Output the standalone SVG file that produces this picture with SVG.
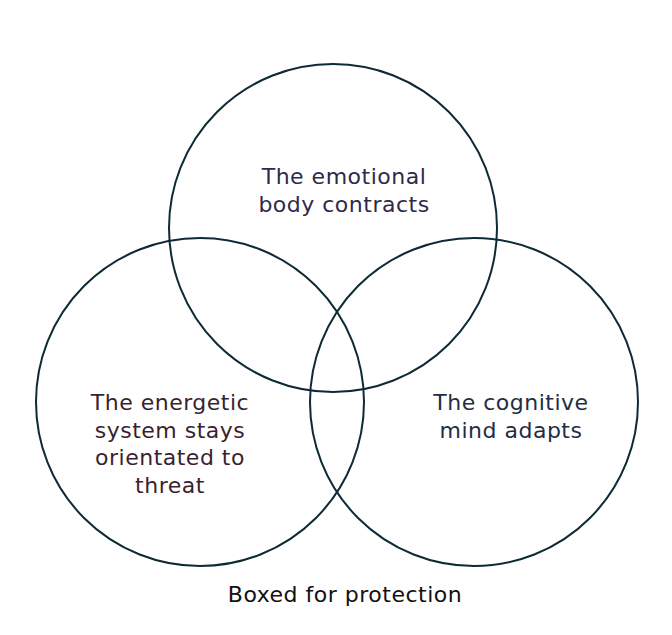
<svg xmlns="http://www.w3.org/2000/svg" width="672" height="635" viewBox="0 0 672 635">
<style>
.c{fill:none;stroke:#0e2a36;stroke-width:2}
.t{font-family:"DejaVu Sans",sans-serif;font-size:22px;letter-spacing:0.5px;text-anchor:middle}
</style>
<rect width="672" height="635" fill="#fff"/>
<g id="circle-emotional">
<circle class="c" cx="333" cy="228" r="164"/>
<text class="t" fill="#2e2a4c"><tspan x="344" y="184">The emotional</tspan><tspan x="344" y="212">body contracts</tspan></text>
</g>
<g id="circle-energetic">
<circle class="c" cx="200" cy="402" r="164"/>
<text class="t" fill="#3a1f2e"><tspan x="170" y="410">The energetic</tspan><tspan x="170" y="438">system stays</tspan><tspan x="170" y="465">orientated to</tspan><tspan x="170" y="493">threat</tspan></text>
</g>
<g id="circle-cognitive">
<circle class="c" cx="474" cy="402" r="164"/>
<text class="t" fill="#1f2d45"><tspan x="511" y="410">The cognitive</tspan><tspan x="511" y="438">mind adapts</tspan></text>
</g>
<g id="caption">
<text class="t" fill="#111" x="345" y="602">Boxed for protection</text>
</g>
</svg>
